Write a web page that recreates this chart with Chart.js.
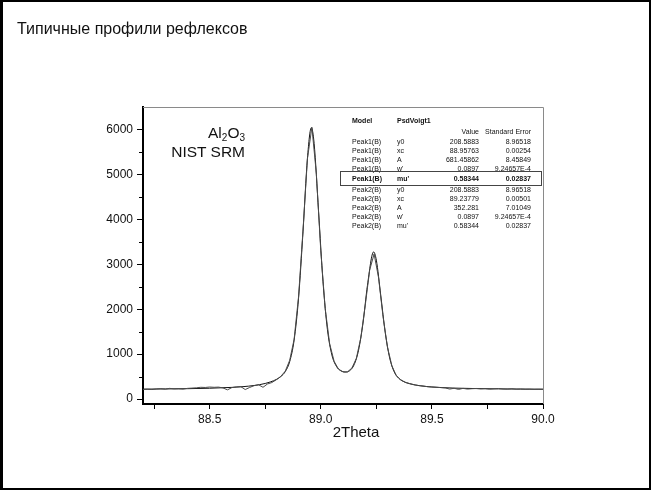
<!DOCTYPE html>
<html>
<head>
<meta charset="utf-8">
<script src="https://cdn.jsdelivr.net/npm/chart.js@4.4.1/dist/chart.umd.min.js"></script>
<style>
  html, body { margin: 0; padding: 0; background: #fff; }
  #page { position: relative; width: 651px; height: 490px; overflow: hidden; font-family: Arial, "Liberation Sans", sans-serif; color: #111; }
  #page canvas { position: absolute; left: 0; top: 0; }
  .frame { position: absolute; left: 0; top: 0; width: 651px; height: 490px; box-sizing: border-box; border: 2px solid #000; border-left-width: 3px; pointer-events: none; }
  .abs { position: absolute; white-space: nowrap; line-height: 1; }
  .title { left: 17px; top: 21px; font-size: 16px; }
  .sample { right: 406px; font-size: 15.5px; text-align: right; }
  .sample sub { font-size: 10px; vertical-align: -3px; line-height: 0; }
  .xtitle { font-size: 15px; top: 424px; left: 331px; width: 50px; text-align: center; }
  .trow { position: absolute; left: 0; width: 651px; height: 9px; line-height: 9px; font-size: 7px; }
  .trow span { position: absolute; top: 0; }
  .trow .r { text-align: right; }
  .bold { font-weight: bold; }
  .box { position: absolute; left: 340px; top: 171px; width: 202px; height: 15px; border: 1px solid #444; box-sizing: border-box; }
</style>
</head>
<body>
<div id="page">
  <canvas id="chart" width="651" height="490"></canvas>
  <div class="abs title">Типичные профили рефлексов</div>
  <div class="abs sample" style="top:125px">Al<sub>2</sub>O<sub>3</sub></div>
  <div class="abs sample" style="top:144px">NIST SRM</div>
  <div class="abs xtitle">2Theta</div>
  <div id="table"></div>
  <div class="box"></div>
  <div class="frame"></div>
</div>
<script>
// measured profile
const measX = [
  88.20, 88.22, 88.24, 88.26, 88.28, 88.30, 88.32, 88.34, 88.36, 88.38,
  88.40, 88.42, 88.44, 88.46, 88.48, 88.50, 88.52, 88.54, 88.56, 88.58,
  88.60, 88.62, 88.64, 88.66, 88.68, 88.70, 88.72, 88.74, 88.76, 88.78,
  88.80, 88.82, 88.84, 88.86, 88.88, 88.90, 88.92, 88.94, 88.96, 88.98,
  89.00, 89.02, 89.04, 89.06, 89.08, 89.10, 89.12, 89.14, 89.16, 89.18,
  89.20, 89.22, 89.24, 89.26, 89.28, 89.30, 89.32, 89.34, 89.36, 89.38,
  89.40, 89.42, 89.44, 89.46, 89.48, 89.50, 89.52, 89.54, 89.56, 89.58,
  89.60, 89.62, 89.64, 89.66, 89.68, 89.70, 89.72, 89.74, 89.76, 89.78,
  89.80, 89.82, 89.84, 89.86, 89.88, 89.90, 89.92, 89.94, 89.96, 89.98,
  90.00
];
const measY = [
  215, 218, 212, 225, 232, 220, 238, 226, 229, 222,
  238, 244, 250, 262, 258, 268, 262, 266, 248, 205,
  255, 270, 276, 212, 258, 298, 318, 262, 335, 368,
  430, 505, 620, 860, 1330, 2280, 3760, 5350, 6050, 5020,
  3300, 2010, 1230, 840, 665, 608, 605, 690, 905, 1360,
  2080, 2870, 3230, 2700, 1840, 1160, 740, 520, 430, 372,
  345, 318, 300, 290, 275, 268, 262, 255, 248, 222,
  240, 215, 238, 222, 230, 236, 226, 232, 220, 228,
  235, 224, 221, 230, 220, 224, 218, 221, 216, 219,
  217
];

// PsdVoigt1 fit curve
const fitX = [
  88.20, 88.30, 88.40, 88.50, 88.60, 88.65, 88.70, 88.75, 88.80, 88.82,
  88.84, 88.86, 88.88, 88.90, 88.92, 88.94, 88.9576, 88.97, 88.99, 89.01,
  89.03, 89.05, 89.07, 89.09, 89.11, 89.13, 89.15, 89.17, 89.19, 89.21,
  89.2378, 89.25, 89.27, 89.29, 89.31, 89.33, 89.35, 89.37, 89.40, 89.45,
  89.50, 89.60, 89.70, 89.80, 89.90, 90.00
];
const fitY = [
  221, 225, 231, 241, 260, 276, 302, 347, 436, 500,
  610, 832, 1311, 2246, 3721, 5359, 6040, 5690, 4180, 2610,
  1544, 982, 731, 630, 600, 631, 764, 1088, 1692, 2527,
  3275, 3092, 2304, 1480, 915, 610, 466, 396, 341, 294,
  269, 244, 233, 226, 222, 219
];

const xTickValues = [88.25, 88.5, 88.75, 89.0, 89.25, 89.5, 89.75, 90.0];
const xTickLabels = ['', '88.5', '', '89.0', '', '89.5', '', '90.0'];
const yTickValues = [0, 1000, 2000, 3000, 4000, 5000, 6000];
const yMinorTicks = [500, 1500, 2500, 3500, 4500, 5500];

// fit parameter table
const tblPeak = ['Peak1(B)', 'Peak1(B)', 'Peak1(B)', 'Peak1(B)', 'Peak1(B)', 'Peak2(B)', 'Peak2(B)', 'Peak2(B)', 'Peak2(B)', 'Peak2(B)'];
const tblParam = ['y0', 'xc', 'A', "w'", "mu'", 'y0', 'xc', 'A', "w'", "mu'"];
const tblValue = ['208.5883', '88.95763', '681.45862', '0.0897', '0.58344', '208.5883', '89.23779', '352.281', '0.0897', '0.58344'];
const tblError = ['8.96518', '0.00254', '8.45849', '9.24657E-4', '0.02837', '8.96518', '0.00501', '7.01049', '9.24657E-4', '0.02837'];
const tblRowY = [141, 150, 159, 168, 178, 189, 198, 207, 216, 225];
const tblBoldRow = 4;

// build the table
const table = document.getElementById('table');
function addRow(cy, cells, bold) {
  const row = document.createElement('div');
  row.className = 'trow' + (bold ? ' bold' : '');
  row.style.top = (cy - 4.5) + 'px';
  cells.forEach(c => {
    const s = document.createElement('span');
    s.textContent = c.text;
    if (c.right !== undefined) {
      s.className = 'r';
      s.style.right = (651 - c.right) + 'px';
    } else {
      s.style.left = c.left + 'px';
    }
    if (c.bold) s.style.fontWeight = 'bold';
    row.appendChild(s);
  });
  table.appendChild(row);
}
addRow(120, [{ text: 'Model', left: 352, bold: true }, { text: 'PsdVoigt1', left: 397, bold: true }]);
addRow(131, [{ text: 'Value', right: 479 }, { text: 'Standard Error', right: 531 }]);
tblPeak.forEach((p, i) => {
  addRow(tblRowY[i], [
    { text: p, left: 352 },
    { text: tblParam[i], left: 397 },
    { text: tblValue[i], right: 479 },
    { text: tblError[i], right: 531 }
  ], i === tblBoldRow);
});

const axisFont = { family: 'Arial, "Liberation Sans", sans-serif', size: 12 };

// gray top/right frame and short minor ticks on y
const framePlugin = {
  id: 'frame',
  beforeDatasetsDraw(chart) {
    const { ctx, chartArea: a } = chart;
    ctx.save();
    ctx.strokeStyle = '#8a8a8a';
    ctx.lineWidth = 1;
    ctx.beginPath();
    ctx.moveTo(a.left, a.top + 0.5);
    ctx.lineTo(a.right + 0.5, a.top + 0.5);
    ctx.lineTo(a.right + 0.5, a.bottom);
    ctx.stroke();
    ctx.restore();
  },
  afterDraw(chart) {
    const { ctx, chartArea: a } = chart;
    const y = chart.scales.y;
    ctx.save();
    ctx.strokeStyle = '#000';
    ctx.lineWidth = 1;
    yMinorTicks.forEach(v => {
      const py = Math.round(y.getPixelForValue(v)) + 0.5;
      ctx.beginPath();
      ctx.moveTo(a.left - 4, py);
      ctx.lineTo(a.left, py);
      ctx.stroke();
    });
    ctx.restore();
  }
};

new Chart(document.getElementById('chart'), {
  type: 'scatter',
  data: {
    datasets: [
      {
        label: 'Data',
        data: measX.map((x, i) => ({ x: x, y: measY[i] })),
        showLine: true,
        borderColor: '#4a4a4a',
        borderWidth: 1,
        pointRadius: 0,
        tension: 0
      },
      {
        label: 'Fit',
        data: fitX.map((x, i) => ({ x: x, y: fitY[i] })),
        showLine: true,
        borderColor: '#111',
        borderWidth: 1,
        pointRadius: 0,
        cubicInterpolationMode: 'monotone'
      }
    ]
  },
  options: {
    responsive: false,
    animation: false,
    devicePixelRatio: 1,
    layout: { padding: { left: 0, top: 107, right: 108, bottom: 0 } },
    plugins: { legend: { display: false }, tooltip: { enabled: false } },
    scales: {
      x: {
        type: 'linear',
        min: 88.2,
        max: 90.0,
        afterBuildTicks: (scale) => { scale.ticks = xTickValues.map(v => ({ value: v })); },
        afterFit: (scale) => { scale.height = 86; },
        ticks: {
          autoSkip: false,
          maxRotation: 0,
          padding: 3,
          color: '#111',
          font: axisFont,
          callback: (value, index) => xTickLabels[index]
        },
        grid: { drawOnChartArea: false, tickLength: 5, tickColor: '#000', tickWidth: 1 },
        border: { display: true, color: '#000', width: 2 }
      },
      y: {
        type: 'linear',
        min: -110,
        max: 6500,
        afterBuildTicks: (scale) => { scale.ticks = yTickValues.map(v => ({ value: v })); },
        afterFit: (scale) => { scale.width = 143; },
        ticks: {
          padding: 4,
          color: '#111',
          font: axisFont,
          callback: (value) => String(value)
        },
        grid: { drawOnChartArea: false, tickLength: 6, tickColor: '#000', tickWidth: 1 },
        border: { display: true, color: '#000', width: 2 }
      }
    }
  },
  plugins: [framePlugin]
});
</script>
</body>
</html>
